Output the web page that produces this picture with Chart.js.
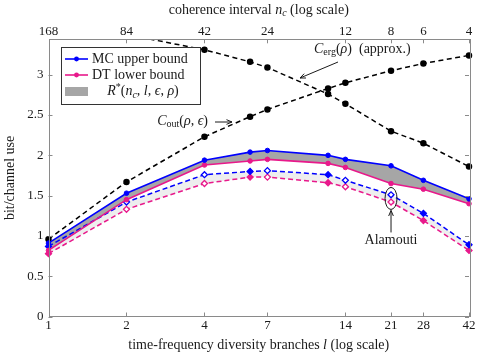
<!DOCTYPE html>
<html lang="en">
<head>
<meta charset="UTF-8">
<title>Rate bounds vs diversity</title>
<script src="https://cdn.jsdelivr.net/npm/chart.js"></script>
<style>
  html, body { margin: 0; padding: 0; background: #fff; }
</style>
</head>
<body>
<canvas id="grafico" width="480" height="357"></canvas>
<script>
// diversity branches l, n_c = 168 / l
var branches = [1, 2, 4, 6, 7, 12, 14, 21, 28, 42];
var tickBranches = [1, 2, 4, 7, 14, 21, 28, 42];
var nTotal = 168;
var yTicks = [0, 0.5, 1, 1.5, 2, 2.5, 3];

var mcUpper     = [0.91, 1.53, 1.94, 2.04, 2.06, 2.00, 1.95, 1.87, 1.69, 1.46];
var dtLower     = [0.82, 1.45, 1.88, 1.93, 1.95, 1.90, 1.85, 1.65, 1.58, 1.40];
var mcUpperAlam = [0.87, 1.42, 1.76, 1.80, 1.81, 1.76, 1.69, 1.51, 1.28, 0.89];
var dtLowerAlam = [0.78, 1.33, 1.65, 1.73, 1.73, 1.66, 1.61, 1.42, 1.19, 0.82];
var cOut        = [0.96, 1.67, 2.23, 2.48, 2.57, 2.83, 2.90, 3.05, 3.14, 3.24];
var cErg        = [3.62, 3.50, 3.31, 3.16, 3.09, 2.76, 2.64, 2.30, 2.15, 1.86];

// which dashed-curve markers are hollow
var hollow = [false, true, true, false, true, false, true, true, false, false];

var azul = '#0000ff';
var rosa = '#e8198b';
var serif = '"Liberation Serif", "DejaVu Serif", serif';

function pontos(ys) {
    return branches.map(function (l, i) { return { x: l, y: ys[i] }; });
}
function miolo(cor) {
    return hollow.map(function (h) { return h ? '#ffffff' : cor; });
}

var recorte = { left: 6, top: 0, right: 6, bottom: 6 };

// text with italic / subscript / superscript pieces
function escreve(ctx, partes, x, y, alinha) {
    var tam = 14, peq = 10;
    function fonte(p) {
        var s = (p.s || '');
        var it = s.indexOf('i') >= 0 ? 'italic ' : '';
        var sz = (s.indexOf('sub') >= 0 || s.indexOf('sup') >= 0) ? peq : tam;
        return it + sz + 'px ' + serif;
    }
    var total = 0;
    partes.forEach(function (p) { ctx.font = fonte(p); total += ctx.measureText(p.t).width; });
    var cx = x;
    if (alinha === 'center') cx = x - total / 2;
    if (alinha === 'right') cx = x - total;
    ctx.textAlign = 'left';
    ctx.textBaseline = 'middle';
    partes.forEach(function (p) {
        ctx.font = fonte(p);
        var dy = 0;
        if ((p.s || '').indexOf('sub') >= 0) dy = 3.5;
        if ((p.s || '').indexOf('sup') >= 0) dy = -4.5;
        ctx.fillText(p.t, cx, y + dy);
        cx += ctx.measureText(p.t).width;
    });
}

function seta(ctx, x1, y1, x2, y2) {
    var ang = Math.atan2(y2 - y1, x2 - x1);
    ctx.beginPath();
    ctx.moveTo(x1, y1);
    ctx.lineTo(x2, y2);
    ctx.stroke();
    ctx.beginPath();
    ctx.moveTo(x2, y2);
    ctx.lineTo(x2 - 6 * Math.cos(ang - 0.4), y2 - 6 * Math.sin(ang - 0.4));
    ctx.moveTo(x2, y2);
    ctx.lineTo(x2 - 6 * Math.cos(ang + 0.4), y2 - 6 * Math.sin(ang + 0.4));
    ctx.stroke();
}

var extras = {
    id: 'extras',
    afterDraw: function (chart) {
        var ctx = chart.ctx;
        var a = chart.chartArea;
        var xs = chart.scales.x, ys = chart.scales.y;
        ctx.save();

        // frame + inner tick marks
        ctx.strokeStyle = '#8a8a8a';
        ctx.lineWidth = 1;
        ctx.strokeRect(Math.round(a.left) + 0.5, Math.round(a.top) + 0.5,
            Math.round(a.right - a.left), Math.round(a.bottom - a.top));
        ctx.beginPath();
        tickBranches.forEach(function (v) {
            var px = Math.round(xs.getPixelForValue(v)) + 0.5;
            ctx.moveTo(px, a.bottom); ctx.lineTo(px, a.bottom - 4);
            ctx.moveTo(px, a.top); ctx.lineTo(px, a.top + 4);
        });
        yTicks.forEach(function (v) {
            var py = Math.round(ys.getPixelForValue(v)) + 0.5;
            ctx.moveTo(a.left, py); ctx.lineTo(a.left + 4, py);
            ctx.moveTo(a.right, py); ctx.lineTo(a.right - 4, py);
        });
        ctx.stroke();

        ctx.fillStyle = '#1a1a1a';
        ctx.strokeStyle = '#1a1a1a';

        // axis titles
        var meio = (a.left + a.right) / 2;
        escreve(ctx, [{ t: 'coherence interval ' }, { t: 'n', s: 'i' }, { t: 'c', s: 'isub' }, { t: ' (log scale)' }], meio, 10, 'center');
        escreve(ctx, [{ t: 'time-frequency diversity branches ' }, { t: 'l', s: 'i' }, { t: ' (log scale)' }], meio, 345, 'center');
        ctx.save();
        ctx.translate(10, (a.top + a.bottom) / 2);
        ctx.rotate(-Math.PI / 2);
        escreve(ctx, [{ t: 'bit/channel use' }], 0, 0, 'center');
        ctx.restore();

        // legend
        ctx.fillStyle = '#ffffff';
        ctx.fillRect(61.5, 47.5, 139, 57);
        ctx.strokeStyle = '#333333';
        ctx.lineWidth = 1;
        ctx.strokeRect(61.5, 47.5, 139, 57);
        [[azul, 59], [rosa, 75]].forEach(function (e) {
            ctx.strokeStyle = e[0];
            ctx.lineWidth = 1.6;
            ctx.beginPath(); ctx.moveTo(65, e[1]); ctx.lineTo(88, e[1]); ctx.stroke();
            ctx.fillStyle = e[0];
            ctx.beginPath(); ctx.arc(76.5, e[1], 2.4, 0, 2 * Math.PI); ctx.fill();
        });
        ctx.fillStyle = '#a6a6a6';
        ctx.fillRect(65, 87, 23, 9);
        ctx.fillStyle = '#1a1a1a';
        escreve(ctx, [{ t: 'MC upper bound' }], 92, 59, 'left');
        escreve(ctx, [{ t: 'DT lower bound' }], 92, 75, 'left');
        escreve(ctx, [{ t: 'R', s: 'i' }, { t: '*', s: 'sup' }, { t: '(' }, { t: 'n', s: 'i' }, { t: 'c', s: 'isub' },
            { t: ', ' }, { t: 'l', s: 'i' }, { t: ', ' }, { t: '\u03f5', s: 'i' }, { t: ', ' }, { t: '\u03c1', s: 'i' }, { t: ')' }], 143, 91.5, 'center');

        // annotations
        ctx.strokeStyle = '#1a1a1a';
        ctx.lineWidth = 1;
        escreve(ctx, [{ t: 'C', s: 'i' }, { t: 'out', s: 'sub' }, { t: '(' }, { t: '\u03c1', s: 'i' }, { t: ', ' }, { t: '\u03f5', s: 'i' }, { t: ')' }], 208, 121, 'right');
        seta(ctx, 215, 122, 232, 122);
        escreve(ctx, [{ t: 'C', s: 'i' }, { t: 'erg', s: 'sub' }, { t: '(' }, { t: '\u03c1', s: 'i' }, { t: ')  (approx.)' }], 314, 49, 'left');
        seta(ctx, 338, 62, 300, 78);

        var ax = xs.getPixelForValue(21);
        var ay = ys.getPixelForValue((mcUpperAlam[7] + dtLowerAlam[7]) / 2);
        ctx.beginPath();
        ctx.ellipse(ax, ay, 6, 11, 0, 0, 2 * Math.PI);
        ctx.stroke();
        seta(ctx, ax, ay + 34, ax, ay + 12);
        escreve(ctx, [{ t: 'Alamouti' }], ax, 240, 'center');

        ctx.restore();
    }
};

var eixoX = {
    type: 'logarithmic', min: 1, max: 42,
    afterBuildTicks: function (s) { s.ticks = tickBranches.map(function (v) { return { value: v }; }); },
    grid: { display: false, tickLength: 0 },
    border: { display: false }
};

new Chart(document.getElementById('grafico'), {
    type: 'line',
    data: {
        datasets: [
            { label: 'MC upper bound', data: pontos(mcUpper), borderColor: azul, backgroundColor: '#a6a6a6',
              fill: '+1', borderWidth: 1.6, pointRadius: 2.3, pointBackgroundColor: azul, pointBorderColor: azul, pointBorderWidth: 1, clip: recorte },
            { label: 'DT lower bound', data: pontos(dtLower), borderColor: rosa, backgroundColor: rosa,
              fill: false, borderWidth: 1.6, pointRadius: 2.3, pointBackgroundColor: rosa, pointBorderColor: rosa, pointBorderWidth: 1, clip: recorte },
            { label: 'MC upper (Alamouti)', data: pontos(mcUpperAlam), borderColor: azul, backgroundColor: '#eeeeee',
              fill: '+1', borderWidth: 1.5, borderDash: [5, 3], pointStyle: 'rectRot', pointRadius: 3,
              pointBackgroundColor: miolo(azul), pointBorderColor: azul, pointBorderWidth: 1.3, clip: recorte },
            { label: 'DT lower (Alamouti)', data: pontos(dtLowerAlam), borderColor: rosa, backgroundColor: rosa,
              fill: false, borderWidth: 1.5, borderDash: [5, 3], pointStyle: 'rectRot', pointRadius: 3,
              pointBackgroundColor: miolo(rosa), pointBorderColor: rosa, pointBorderWidth: 1.3, clip: recorte },
            { label: 'C_out', data: pontos(cOut), borderColor: '#000', backgroundColor: '#000',
              fill: false, borderWidth: 1.5, borderDash: [5, 3.5], pointRadius: 2.5, pointBackgroundColor: '#000', clip: recorte },
            { label: 'C_erg', data: pontos(cErg), borderColor: '#000', backgroundColor: '#000',
              fill: false, borderWidth: 1.5, borderDash: [5, 3.5], pointRadius: 2.5, pointBackgroundColor: '#000', clip: recorte }
        ]
    },
    options: {
        responsive: false,
        animation: false,
        layout: { padding: { right: 11 } },
        elements: { line: { tension: 0 } },
        plugins: {
            legend: { display: false },
            tooltip: { enabled: false },
            filler: { drawTime: 'beforeDatasetsDraw' }
        },
        scales: {
            x: Object.assign({}, eixoX, {
                position: 'bottom',
                afterFit: function (s) { s.height = 40.5; },
                ticks: { autoSkip: false, maxRotation: 0, padding: 1.5, color: '#1a1a1a',
                         font: { family: serif, size: 13 },
                         callback: function (v) { return String(v); } }
            }),
            x2: Object.assign({}, eixoX, {
                axis: 'x', position: 'top',
                afterFit: function (s) { s.height = 39.3; },
                ticks: { autoSkip: false, maxRotation: 0, padding: 0, color: '#1a1a1a',
                         font: { family: serif, size: 13 },
                         callback: function (v) { return String(nTotal / v); } }
            }),
            y: {
                type: 'linear', min: 0, max: 3.44,
                afterBuildTicks: function (s) { s.ticks = yTicks.map(function (v) { return { value: v }; }); },
                afterFit: function (s) { s.width = 48.5; },
                grid: { display: false, tickLength: 0 },
                border: { display: false },
                ticks: { padding: 5, color: '#1a1a1a', font: { family: serif, size: 13 },
                         callback: function (v) { return String(v); } }
            }
        }
    },
    plugins: [extras]
});
</script>
</body>
</html>
